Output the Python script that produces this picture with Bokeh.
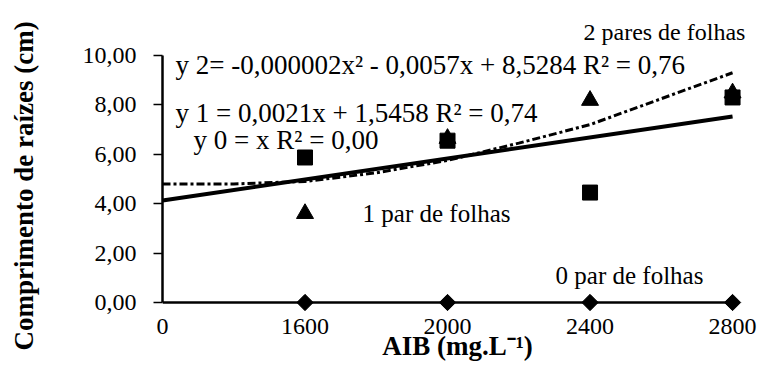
import math
from bokeh.plotting import figure
from bokeh.models import Range1d, FixedTicker, Label, LinearAxis, Title
from bokeh.embed import file_html
from bokeh.resources import INLINE

# ---- data ----
x_labels = ["0", "1600", "2000", "2400", "2800"]
x_pos = [0, 1, 2, 3, 4]                  # categories are equally spaced
dose_idx = [1, 2, 3, 4]                  # 1600, 2000, 2400, 2800
zero_pair = [0.0, 0.0, 0.0, 0.0]         # diamonds
series_tri = [3.6, 6.64, 8.18, 8.48]     # triangles
series_sq = [5.87, 6.55, 4.45, 8.3]      # squares

trend0_x = [0, 4]
trend0_y = [0.0, 0.0]
trend1_x = [0, 4]
trend1_y = [4.13, 7.53]
trend2_x = [0, 0.5, 1, 1.5, 2, 2.5, 3, 3.5, 4]
trend2_y = [4.8, 4.8, 4.9, 5.25, 5.75, 6.45, 7.2, 8.25, 9.3]

y_ticks = [0, 2, 4, 6, 8, 10]
y_tick_labels = ["0,00", "2,00", "4,00", "6,00", "8,00", "10,00"]

FONT = "Liberation Serif"
INK = "black"

p = figure(width=757, height=379, output_backend="svg", toolbar_location=None,
           x_range=Range1d(0, 4.14), y_range=Range1d(-0.405, 11.82),
           min_border_left=162, min_border_right=5, min_border_top=10,
           min_border_bottom=67)
p.outline_line_color = None
p.grid.visible = False
p.background_fill_color = "white"
p.border_fill_color = "white"

# x axis
xa = p.xaxis[0]
xa.ticker = FixedTicker(ticks=x_pos)
xa.major_label_overrides = {x: lbl for x, lbl in zip(x_pos, x_labels)}
xa.axis_line_color = None
xa.major_tick_line_color = None
xa.minor_tick_line_color = None
xa.major_label_standoff = 0
xa.major_label_text_font = FONT
xa.major_label_text_font_size = "24px"
xa.major_label_text_color = INK
xa.axis_label = "AIB (mg.L\u207b\u00b9)"
xa.axis_label_text_font = FONT
xa.axis_label_text_font_style = "bold"
xa.axis_label_text_font_size = "27px"
xa.axis_label_text_color = INK
xa.axis_label_standoff = -6

# y axis
ya = p.yaxis[0]
ya.ticker = FixedTicker(ticks=y_ticks)
ya.major_label_overrides = {t: l for t, l in zip(y_ticks, y_tick_labels)}
ya.bounds = (0, 10)
ya.axis_line_width = 2.5
ya.axis_line_color = INK
ya.major_tick_in = 0
ya.major_tick_out = 9
ya.major_tick_line_width = 1.5
ya.major_tick_line_color = INK
ya.minor_tick_line_color = None
ya.major_label_standoff = 17
ya.major_label_text_font = FONT
ya.major_label_text_font_size = "24px"
ya.major_label_text_color = INK

# blank spacer between the tick labels and the y title (white tick on white margin)
spacer = LinearAxis(ticker=FixedTicker(ticks=[-0.3]), axis_line_color=None,
                    major_tick_line_color="white", minor_tick_line_color=None,
                    major_tick_in=0, major_tick_out=34, major_label_text_font_size="0px")
p.add_layout(spacer, "left")

# y axis title
p.add_layout(Title(text="Comprimento de raízes (cm)", align="left", offset=-38,
                   vertical_align="top", standoff=10, text_font=FONT,
                   text_font_size="27px", text_font_style="bold", text_color=INK), "left")

# trend lines
p.line(trend0_x, trend0_y, line_color=INK, line_width=2.5)
p.line(trend1_x, trend1_y, line_color=INK, line_width=4)
p.line(trend2_x, trend2_y, line_color=INK, line_width=3, line_dash="8 3 3 3")

# markers
p.scatter(dose_idx, zero_pair, marker="square", angle=math.pi / 4, size=11.5,
          fill_color=INK, line_color=INK)
p.scatter(dose_idx, series_sq, marker="square", size=15, fill_color=INK, line_color=INK)
p.scatter(dose_idx, series_tri, marker="triangle", size=17, fill_color=INK, line_color=INK)

def lab(x, y, text, size):
    p.add_layout(Label(x=x, y=y, text=text, text_font=FONT, text_font_size=size,
                       text_color=INK, text_baseline="alphabetic"))

lab(2.954, 10.94, "2 pares de folhas", "24px")
lab(0.091, 9.6, "y 2= -0,000002x\u00b2 - 0,0057x + 8,5284 R\u00b2 = 0,76", "27px")
lab(0.091, 7.69, "y 1 = 0,0021x + 1,5458 R\u00b2 = 0,74", "27px")
lab(0.218, 6.56, "y 0 = x R\u00b2 = 0,00", "27px")
lab(1.404, 3.60, "1 par de folhas", "25px")
lab(2.758, 1.09, "0 par de folhas", "25px")

open("out.html", "w").write(file_html(p, INLINE))
